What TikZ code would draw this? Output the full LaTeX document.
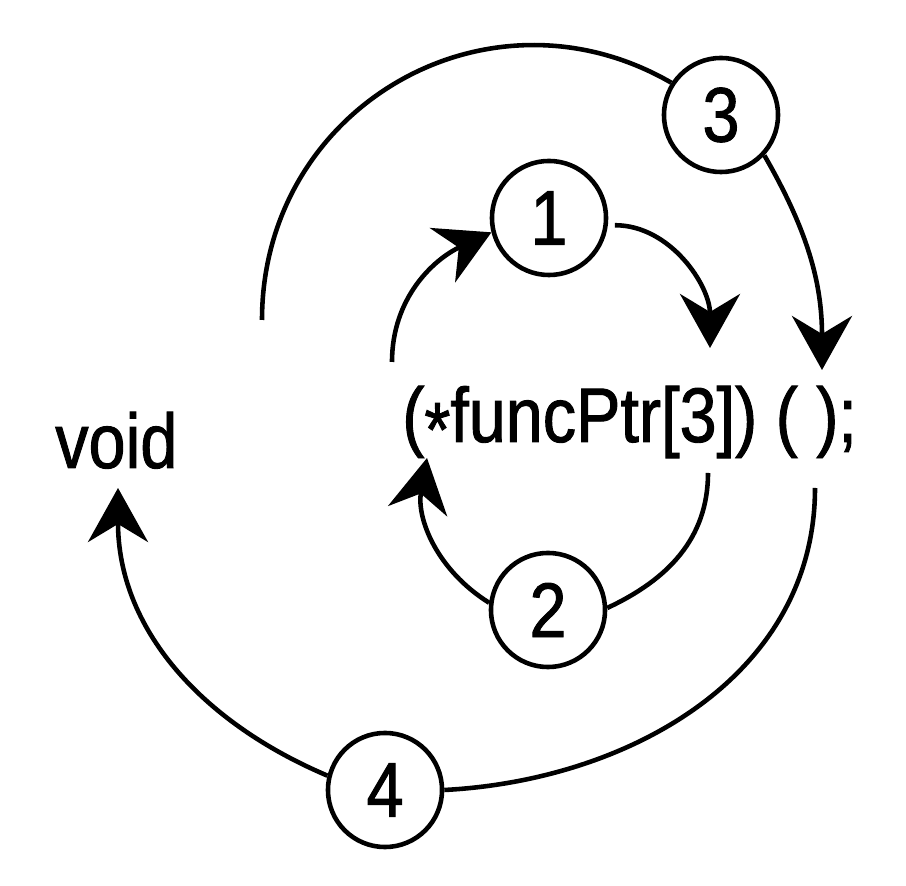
\documentclass[tikz,border=0pt]{standalone}
\usepackage{fontspec}
\setmainfont{Liberation Sans}[FakeStretch=0.86, FakeBold=1.2]
\usepackage{tikz}
\usetikzlibrary{arrows.meta, calc, positioning}

\begin{document}
\begin{tikzpicture}[x=0.01cm, y=-0.01cm, line width=1.3pt,
    >={Stealth[length=5.4mm, width=6mm, inset=1.8mm]},
    num/.style={circle, draw, line width=1.3pt, minimum size=1.14cm, inner sep=0pt, font=\fontsize{22}{26}\selectfont},
    word/.style={inner sep=0pt, anchor=base west, font=\fontsize{22}{26}\selectfont}]
    \useasboundingbox (0,0) rectangle (906,886);

    \node[num] (c1) at (549, 218) {1};
    \node[num] (c2) at (548, 610) {2};
    \node[num] (c3) at (721, 115) {3};
    \node[num] (c4) at (385, 790) {4};

    \node[word] (void) at (53, 468) {void};
    \node[word] (code) at (400, 442) {(\raisebox{-0.35ex}{*}funcPtr[3]) ( );};

    \coordinate (a1) at (392, 362);
    \coordinate (b1) at (710, 348);
    \coordinate (a2) at (708, 473);
    \coordinate (b2) at (427, 458);
    \coordinate (a3) at (262, 320);
    \coordinate (b3) at (822, 370);
    \coordinate (a4) at (815, 488);
    \coordinate (b4) at (118, 488);

    \draw
    (a3) edge[out=90, in=150, looseness=1.15] (c3.147)
    (c3.-43) edge[->, out=-60, in=90] (b3)
    (a1) edge[->, out=90, in=205] (c1.194)
    (c1.-7) edge[->, out=0, in=90, shorten <=2pt] (b1)
    (a2) edge[out=-90, in=25] (c2.2)
    (c2.173) edge[->, out=148, in=-100] (b2)
    (a4) edge[out=-90, in=3] (c4.0)
    (c4.166) edge[->, out=157, in=-90] (b4);
\end{tikzpicture}
\end{document}
